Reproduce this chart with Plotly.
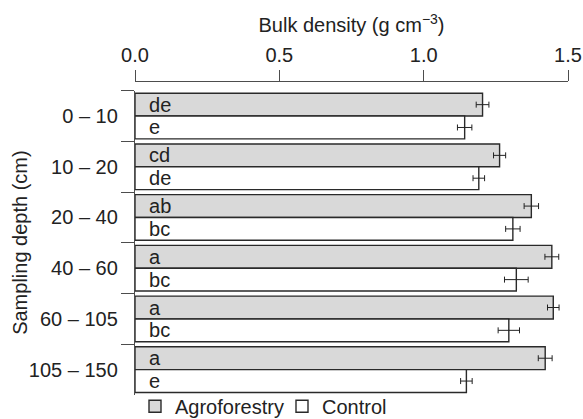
import plotly.graph_objects as go

depths = ["0 – 10", "10 – 20", "20 – 40", "40 – 60", "60 – 105", "105 – 150"]
agro = [1.204, 1.263, 1.373, 1.444, 1.449, 1.421]
agro_err = [0.022, 0.021, 0.025, 0.024, 0.020, 0.024]
agro_letters = ["de", "cd", "ab", "a", "a", "a"]
ctrl = [1.142, 1.191, 1.309, 1.321, 1.295, 1.148]
ctrl_err = [0.025, 0.020, 0.025, 0.041, 0.037, 0.020]
ctrl_letters = ["e", "de", "bc", "bc", "bc", "e"]
x_ticks = [0.0, 0.5, 1.0, 1.5]
x_ticktext = ["0.0", "0.5", "1.0", "1.5"]

FONT = "Liberation Sans, Arial, sans-serif"
FS = 20
TXT = "#222222"
AX = "#4d4d4d"
NB = "\u00a0\u00a0"

fig = go.Figure()
fig.add_trace(go.Bar(
    name="Agroforestry", y=depths, x=agro, orientation="h",
    marker=dict(color="#d9d9d9", line=dict(color="#2a2a2a", width=1.4)),
    error_x=dict(type="data", array=agro_err, color="#222222", thickness=1, width=3),
    text=[NB + t for t in agro_letters], textposition="inside",
    insidetextanchor="start", textangle=0, constraintext="none",
    textfont=dict(family=FONT, size=FS, color=TXT),
))
fig.add_trace(go.Bar(
    name="Control", y=depths, x=ctrl, orientation="h",
    marker=dict(color="#ffffff", line=dict(color="#2a2a2a", width=1.4)),
    error_x=dict(type="data", array=ctrl_err, color="#222222", thickness=1, width=3),
    text=[NB + t for t in ctrl_letters], textposition="inside",
    insidetextanchor="start", textangle=0, constraintext="none",
    textfont=dict(family=FONT, size=FS, color=TXT),
))

W, H = 583, 419
left, right, top, bottom = 135, 15, 81, 24
plot_w = W - left - right
plot_h = H - top - bottom
ydom_top = (395 - 90.7) / plot_h

fig.update_layout(
    width=W, height=H,
    margin=dict(l=left, r=right, t=top, b=bottom, pad=0, autoexpand=False),
    paper_bgcolor="white", plot_bgcolor="white",
    font=dict(family=FONT, size=FS, color=TXT),
    barmode="group", bargap=0.1, bargroupgap=0,
    showlegend=True,
    legend=dict(
        orientation="h", x=0.0, xanchor="left", y=-0.036, yanchor="middle",
        font=dict(family=FONT, size=FS, color=TXT),
        itemwidth=30, entrywidth=102, entrywidthmode="pixels",
        bgcolor="rgba(0,0,0,0)", borderwidth=0, traceorder="normal",
    ),
    xaxis=dict(
        side="top", anchor="free", position=1,
        range=[0, 1.5], tickvals=x_ticks, ticktext=x_ticktext,
        showgrid=False, zeroline=False,
        showline=True, linecolor=AX, linewidth=1.3,
        ticks="outside", ticklen=11, tickwidth=1.3, tickcolor=AX,
        tickfont=dict(family=FONT, size=FS, color=TXT),
        title=dict(text="Bulk density (g cm<sup>−3</sup>)", standoff=4,
                   font=dict(family=FONT, size=FS, color=TXT)),
    ),
    yaxis=dict(
        domain=[0, ydom_top],
        type="category", categoryorder="array", categoryarray=depths,
        range=[5.5, -0.5],
        showgrid=False, zeroline=False,
        showline=True, linecolor=AX, linewidth=1.3,
        ticks="outside", tickson="boundaries", ticklen=13, tickwidth=1.3, tickcolor=AX,
        ticklabelstandoff=12,
        tickfont=dict(family=FONT, size=FS, color=TXT),
    ),
    annotations=[dict(
        text="Sampling depth (cm)", textangle=-90, showarrow=False,
        xref="paper", yref="paper",
        x=(20 - left) / plot_w, y=ydom_top / 2,
        xanchor="center", yanchor="middle",
        font=dict(family=FONT, size=FS, color=TXT),
    )],
)

fig.write_html("out.html")
